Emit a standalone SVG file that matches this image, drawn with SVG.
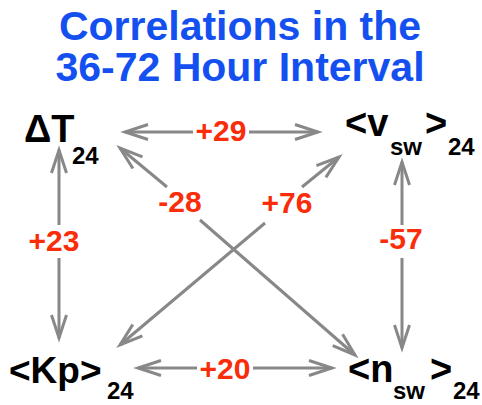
<svg xmlns="http://www.w3.org/2000/svg" width="482" height="405" viewBox="0 0 482 405">
<style>
.title{font-family:"Liberation Sans",Arial,sans-serif;font-weight:bold;font-size:41px;fill:#1450f0;text-anchor:middle}
.node{font-family:"Liberation Sans",Arial,sans-serif;font-weight:bold;font-size:38px;fill:#000}
.sub{font-size:24px}
.val{font-family:"Liberation Sans",Arial,sans-serif;font-weight:bold;font-size:30px;fill:#fa2d0a;text-anchor:middle}
.conn{fill:none;stroke:#888;stroke-width:3;marker-start:url(#ah);marker-end:url(#ah)}
</style>
<defs>
<marker id="ah" markerUnits="userSpaceOnUse" orient="auto-start-reverse" refX="0" refY="0" markerWidth="40" markerHeight="40" viewBox="-30 -15 40 30" overflow="visible">
<path d="M-23,-7.5 L0,0 L-23,7.5" fill="none" stroke="#888" stroke-width="3" stroke-linejoin="miter"/>
</marker>
</defs>
<rect width="482" height="405" fill="#fff"/>
<g id="title">
<text class="title" x="240" y="40">Correlations in the</text>
<text class="title" x="240" y="81">36-72 Hour Interval</text>
</g>
<g id="connectors">
<path class="conn" d="M125,132 L193,132 M249,132 L318,132"/>
<path class="conn" d="M59,150 L59,225 M59,258 L59,338"/>
<path class="conn" d="M402,162 L402,225 M402,258 L402,348"/>
<path class="conn" d="M138,368 L197,368 M253,368 L332,368"/>
<path class="conn" d="M120,148 L167,187 M200,220 L355,355"/>
<path class="conn" d="M339,157 L302,187 M265,223 L120,345"/>
</g>
<g id="labels">
<text class="val" x="221" y="141">+29</text>
<text class="val" x="54" y="251">+23</text>
<text class="val" x="401" y="249">-57</text>
<text class="val" x="225" y="379">+20</text>
<text class="val" x="180" y="212">-28</text>
<text class="val" x="287" y="213">+76</text>
</g>
<g id="node-dT">
<text class="node" x="24" y="142">ΔT<tspan class="sub" x="72" y="164">24</tspan></text>
</g>
<g id="node-vsw">
<text class="node" x="345" y="136">&lt;v<tspan class="sub" x="390" y="155">sw</tspan><tspan x="425" y="136">&gt;</tspan><tspan class="sub" x="448" y="155">24</tspan></text>
</g>
<g id="node-Kp">
<text class="node" x="9" y="383" style="font-size:37px">&lt;Kp&gt;<tspan class="sub" x="107" y="399">24</tspan></text>
</g>
<g id="node-nsw">
<text class="node" x="348" y="382">&lt;n<tspan class="sub" x="393" y="399">sw</tspan><tspan x="430" y="382">&gt;</tspan><tspan class="sub" x="453" y="399">24</tspan></text>
</g>
</svg>
